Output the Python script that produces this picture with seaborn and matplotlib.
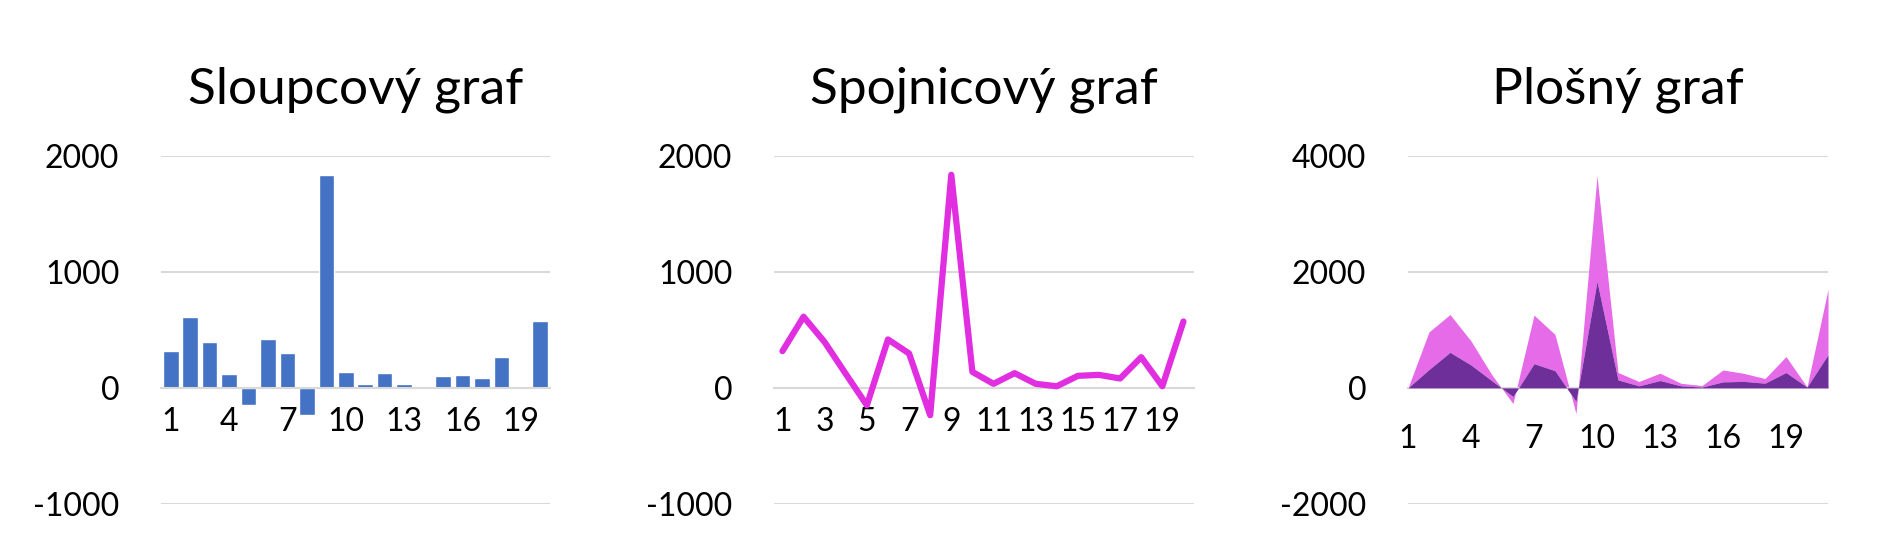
import numpy as np
import pandas as pd
import seaborn as sns
import matplotlib.pyplot as plt

categories = list(range(1, 21))
values = [317, 614, 395, 121, -150, 418, 297, -236, 1839, 138,
          35, 127, 35, 14, 104, 112, 81, 265, 14, 573]
area_categories = list(range(1, 22))
area_lower = [0] + values
area_upper = [0, 650, 652, 415, 100, -120, 838, 625, -210, 1820, 127,
              75, 127, 44, 26, 205, 138, 80, 276, 3, 1127]

sns.set_theme(style="white")
plt.rcParams["font.family"] = ["Lato", "DejaVu Sans"]

fig = plt.figure(figsize=(18.8, 5.44), dpi=100)
bottom, height = 0.074, 0.639
ax1 = fig.add_axes([161 / 1880, bottom, 389 / 1880, height])
ax2 = fig.add_axes([774 / 1880, bottom, 420 / 1880, height])
ax3 = fig.add_axes([1408 / 1880, bottom, 420 / 1880, height])

grid_col = "#d9d9d9"

def style(ax, lim, yticks, title):
    ax.set_ylim(*lim)
    ax.set_yticks(yticks)
    ax.set_yticklabels([str(t) for t in yticks], fontsize=23)
    for t in yticks:
        ax.axhline(t, color=grid_col, lw=1.5, zorder=0)
    for s in ["top", "right", "left"]:
        ax.spines[s].set_visible(False)
    ax.spines["bottom"].set_position(("data", 0))
    ax.spines["bottom"].set_color(grid_col)
    ax.spines["bottom"].set_linewidth(1.5)
    ax.tick_params(axis="y", length=0, pad=30, labelcolor="black")
    ax.tick_params(axis="x", labelsize=23, pad=14, labelcolor="black")
    ax.set_title(title, fontsize=37, pad=38, color="black")
    ax.set_xlabel("")
    ax.set_ylabel("")

# bar chart
df = pd.DataFrame({"x": categories, "v": values})
sns.barplot(data=df, x="x", y="v", color="#4472C4", saturation=1, width=0.8, ax=ax1, zorder=2)
ax1.set_xlim(-0.5, 19.5)
ax1.set_xticks(range(0, 20, 3))
ax1.set_xticklabels([str(c) for c in categories[::3]])
style(ax1, (-1000, 2000), [-1000, 0, 1000, 2000], "Sloupcový graf")
ax1.tick_params(axis="x", length=0)

# line chart
sns.lineplot(data=df, x="x", y="v", color="#E02EE0", lw=4.5, ax=ax2, zorder=3)
ax2.set_xlim(0.6, 20.5)
ax2.set_xticks(categories[::2])
style(ax2, (-1000, 2000), [-1000, 0, 1000, 2000], "Spojnicový graf")
ax2.tick_params(axis="x", length=0)

# stacked area chart
xa = np.array(area_categories)
lo = np.array(area_lower)
up = lo + np.array(area_upper)
ax3.fill_between(xa, 0, lo, color="#6F2F9A", lw=0, zorder=3)
ax3.fill_between(xa, lo, up, color="#E56BE8", lw=0, zorder=2)
ax3.set_xlim(1, 21)
ax3.set_xticks(area_categories)
ax3.set_xticklabels([str(c) if (c - 1) % 3 == 0 else "" for c in area_categories])
style(ax3, (-2000, 4000), [-2000, 0, 2000, 4000], "Plošný graf")
ax3.tick_params(axis="x", length=12, width=1.5, color=grid_col, direction="out")

fig.savefig("out.png", dpi=100)
